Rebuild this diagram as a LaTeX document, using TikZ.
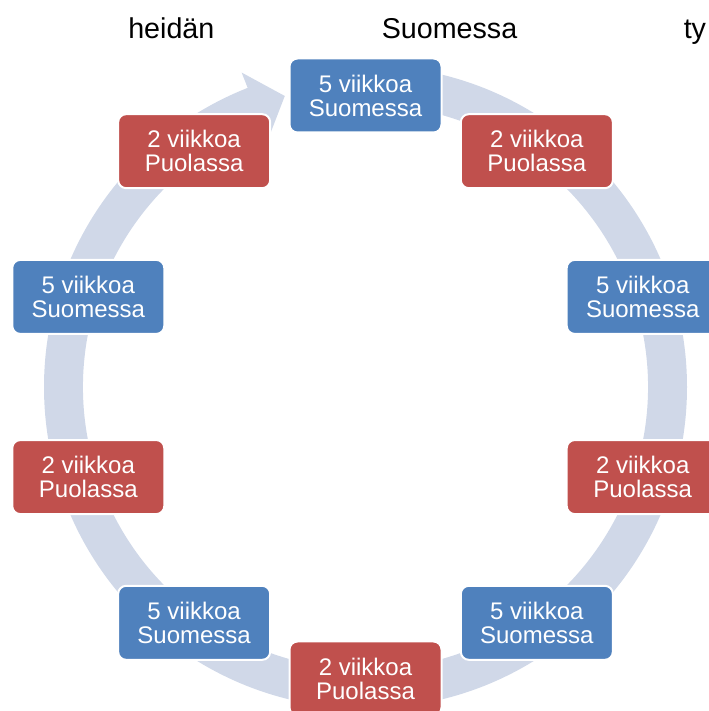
\documentclass[tikz,border=0pt]{standalone}
\usepackage{fontspec}
\setmainfont{Liberation Sans}
\usetikzlibrary{positioning}
\definecolor{finblue}{HTML}{4F81BD}
\definecolor{plred}{HTML}{C0504D}
\definecolor{ringgrey}{HTML}{D0D8E8}

\begin{document}
\begin{tikzpicture}[x=0.75pt,y=0.75pt,
    period/.style={draw=white,line width=1.5pt,rounded corners=6pt,
      minimum width=114pt,minimum height=55.5pt,inner sep=0pt,
      text=white,align=center,font=\fontsize{18}{18}\selectfont},
    fi/.style={period,fill=finblue},
    pl/.style={period,fill=plred},
    headword/.style={anchor=base west,inner sep=0pt,font=\fontsize{21.5}{24}\selectfont}]
    \useasboundingbox (0,0) rectangle (709,711);

    %line of text above
    \node[headword] (h_1) at (128,672) {heidän};
    \node[headword] (h_2) at (381.5,672) {Suomessa};
    \node[headword] (h_3) at (683.5,672) {ty};

    \begin{scope}[shift={(365.5,324)}]
    %ring with arrow head
    \fill[ringgrey] (90:321.5) arc[start angle=90,end angle=-248.5,radius=321.5]
      -- (111.5:338) -- (105.5:302) -- (111.5:266) -- (111.5:282.5)
      arc[start angle=111.5,end angle=450,radius=282.5] -- cycle;

    %5 viikkoa
    \node[fi] (fi_1) at (90:291.5) {5 viikkoa\\Suomessa};
    \node[fi] (fi_2) at (18:291.5) {5 viikkoa\\Suomessa};
    \node[fi] (fi_3) at (-54:291.5) {5 viikkoa\\Suomessa};
    \node[fi] (fi_4) at (-126:291.5) {5 viikkoa\\Suomessa};
    \node[fi] (fi_5) at (162:291.5) {5 viikkoa\\Suomessa};

    %2 viikkoa
    \node[pl] (pl_1) at (54:291.5) {2 viikkoa\\Puolassa};
    \node[pl] (pl_2) at (-18:291.5) {2 viikkoa\\Puolassa};
    \node[pl] (pl_3) at (-90:291.5) {2 viikkoa\\Puolassa};
    \node[pl] (pl_4) at (-162:291.5) {2 viikkoa\\Puolassa};
    \node[pl] (pl_5) at (126:291.5) {2 viikkoa\\Puolassa};
    \end{scope}
\end{tikzpicture}
\end{document}
